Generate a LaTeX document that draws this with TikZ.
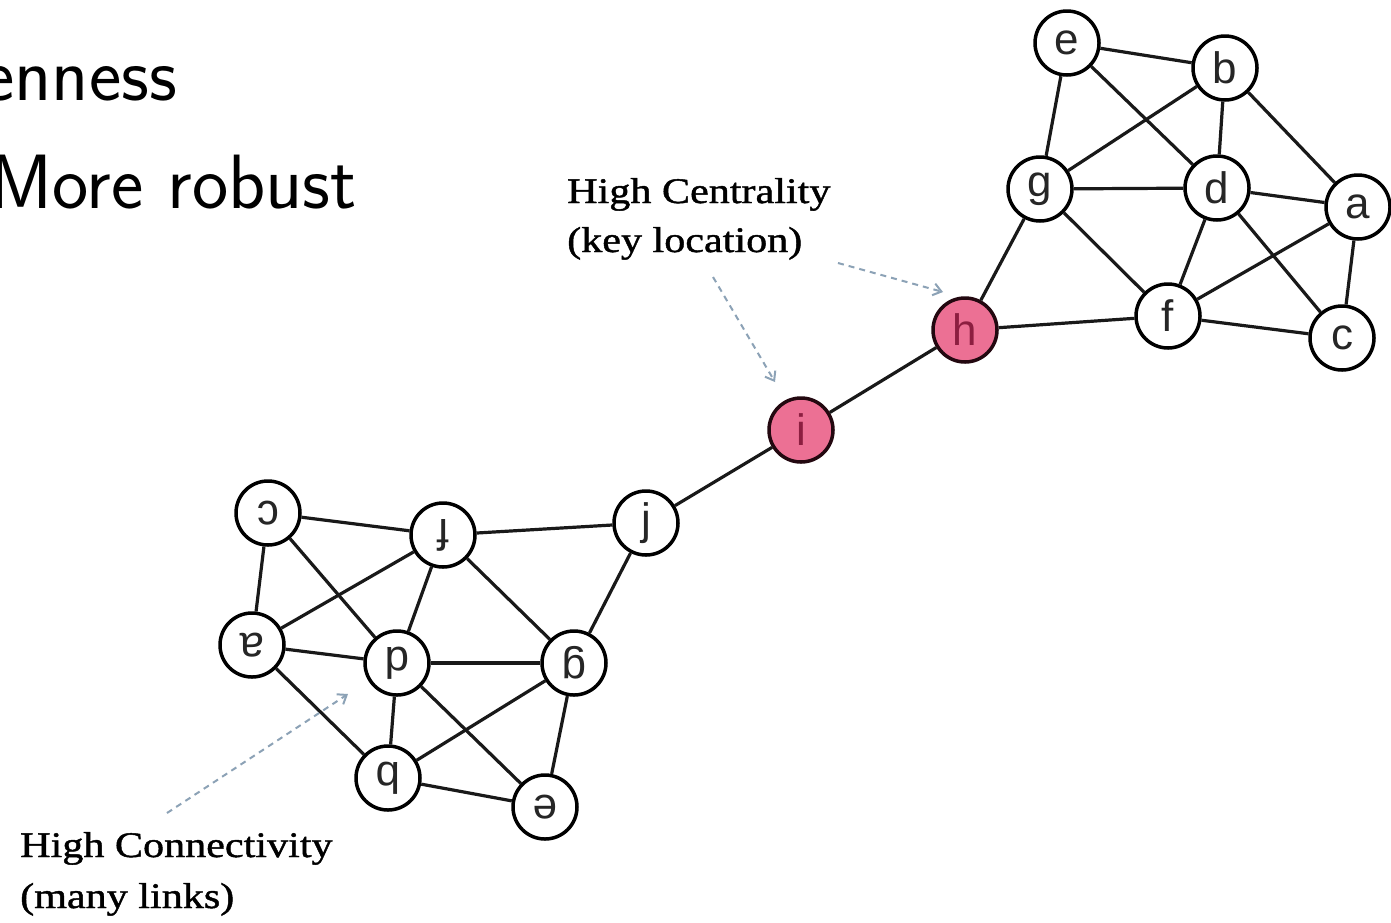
\documentclass[tikz,border=0pt]{standalone}
\usepackage{fontspec}
\newfontfamily\annfont[FakeStretch=1.17,FakeBold=1.2]{Liberation Serif}
\newfontfamily\vfont{Liberation Sans}
\usetikzlibrary{arrows.meta}
\definecolor{pinkfill}{RGB}{236,112,148}
\definecolor{pinktext}{RGB}{140,30,64}
\definecolor{dashcol}{RGB}{140,162,182}
\begin{document}
\begin{tikzpicture}[x=1pt,y=-1pt,
  vtx/.style={circle,draw=black,line width=3.5pt,fill=white,minimum size=64pt,inner sep=0pt,
    font=\vfont\fontsize{44}{44}\selectfont,text=black!85},
  hot/.style={vtx,fill=pinkfill,text=pinktext,draw=black!75!pinktext},
  flip/.style={rotate=180},
  edge/.style={line width=3.2pt,black!90},
  note/.style={draw=dashcol,line width=2pt,dash pattern=on 6pt off 5pt,
    -{Straight Barb[length=8pt,width=12pt,line width=2pt]}},
  ann/.style={font=\annfont\fontsize{36}{49}\selectfont,align=left,anchor=base west,inner sep=0pt,text=black},
  big/.style={font=\sffamily\fontsize{77}{77}\selectfont,anchor=base east,inner sep=0pt}
]
\useasboundingbox (0,0) rectangle (1391,922);
\clip (0,0) rectangle (1391,922);
\fill[white] (0,0) rectangle (1391,922);

% slide text (cut at the left edge)
\node[big] (t1) at (177,100) {enness};
\node[big] (t2) at (357,208) {More robust};

% upper cluster
\node[vtx] (e) at (1067,43) {e};
\node[vtx] (b) at (1225,68) {b};
\node[vtx] (g) at (1040,189) {g};
\node[vtx] (d) at (1217,188) {d};
\node[vtx] (a) at (1358,207) {a};
\node[vtx] (f) at (1168,316) {f};
\node[vtx] (c) at (1342,338) {c};
\node[hot] (h) at (965,330) {h};
\node[hot] (i) at (801,430) {i};

% lower cluster (upside down)
\node[vtx,flip] (c2) at (268,513) {c};
\node[vtx,flip] (f2) at (443,535) {f};
\node[vtx] (j) at (646,523) {j};
\node[vtx,flip] (a2) at (252,645) {a};
\node[vtx,flip] (d2) at (397,663) {d};
\node[vtx,flip] (g2) at (574,663) {g};
\node[vtx,flip] (b2) at (388,778) {b};
\node[vtx,flip] (e2) at (545,807) {e};

% edges upper
\draw[edge] (e) -- (b);
\draw[edge] (e) -- (g);
\draw[edge] (e) -- (d);
\draw[edge] (b) -- (g);
\draw[edge] (b) -- (d);
\draw[edge] (b) -- (a);
\draw[edge] (g) -- (d);
\draw[edge] (g) -- (f);
\draw[edge] (g) -- (h);
\draw[edge] (d) -- (a);
\draw[edge] (d) -- (f);
\draw[edge] (d) -- (c);
\draw[edge] (a) -- (f);
\draw[edge] (a) -- (c);
\draw[edge] (f) -- (c);
\draw[edge] (f) -- (h);
\draw[edge] (h) -- (i);
\draw[edge] (i) -- (j);
% edges lower
\draw[edge] (e2) -- (b2);
\draw[edge] (e2) -- (g2);
\draw[edge] (e2) -- (d2);
\draw[edge] (b2) -- (g2);
\draw[edge] (b2) -- (d2);
\draw[edge] (b2) -- (a2);
\draw[edge] (g2) -- (d2);
\draw[edge] (g2) -- (f2);
\draw[edge] (g2) -- (j);
\draw[edge] (d2) -- (a2);
\draw[edge] (d2) -- (f2);
\draw[edge] (d2) -- (c2);
\draw[edge] (a2) -- (f2);
\draw[edge] (a2) -- (c2);
\draw[edge] (f2) -- (c2);
\draw[edge] (f2) -- (j);

% annotations (anchor at the baseline of the last line)
\node[ann] (cent) at (567,252) {High Centrality\\(key location)};
\node[ann,font=\annfont\fontsize{36}{51}\selectfont] (conn) at (20,908) {High Connectivity\\(many links)};

\coordinate (n1s) at (713,277);
\coordinate (n1e) at (775,382);
\coordinate (n2s) at (838,263);
\coordinate (n2e) at (943,292);
\coordinate (n3s) at (167,813);
\coordinate (n3e) at (348,694);
\draw[note] (n1s) -- (n1e);
\draw[note] (n2s) -- (n2e);
\draw[note] (n3s) -- (n3e);
\end{tikzpicture}
\end{document}
